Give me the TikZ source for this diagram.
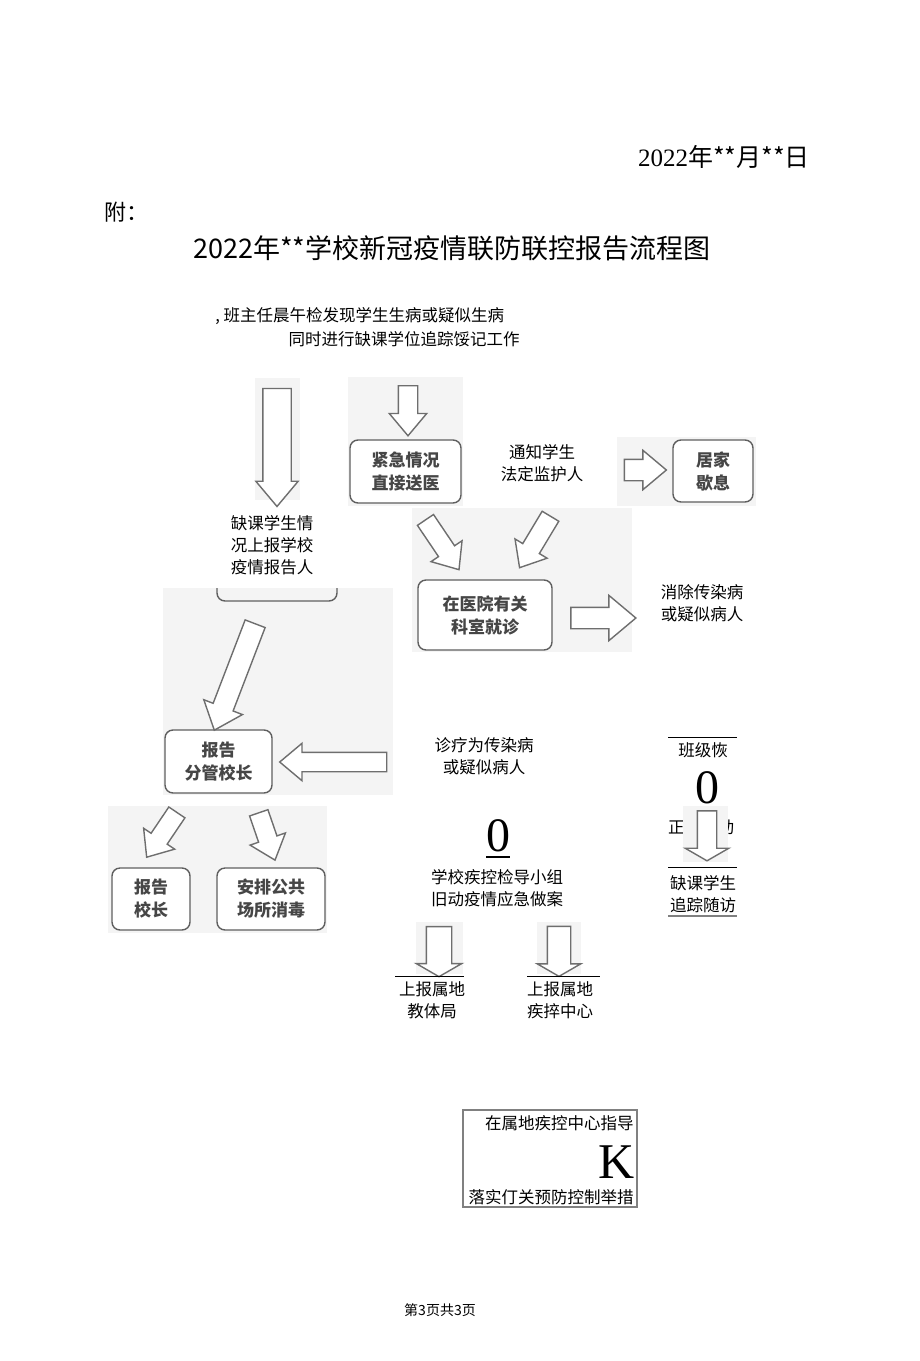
\documentclass[tikz,border=0pt]{standalone}
\usepackage{fontspec}
\setmainfont{Noto Sans CJK SC}
\newfontfamily\serifnum{Liberation Serif}
\usetikzlibrary{shapes.arrows}
\definecolor{panelgray}{RGB}{244,244,244}
\definecolor{boxline}{RGB}{95,95,95}
\definecolor{boxtext}{RGB}{70,70,70}
\definecolor{arrowline}{RGB}{110,110,110}
\begin{document}
\begin{tikzpicture}[x=0.5pt,y=-0.5pt,
  panel/.style={fill=panelgray,draw=none},
  box/.style={draw=boxline,fill=white,rounded corners=4pt,line width=0.7pt,align=center,inner sep=0pt,text=boxtext,font=\bfseries\fontsize{8.5}{11.5}\selectfont},
  txt/.style={align=center,inner sep=0pt,font=\fontsize{8.25}{11}\selectfont},
  blk/.style n args={3}{single arrow,draw=arrowline,fill=white,line width=0.7pt,inner xsep=0pt,minimum width=0pt,single arrow tip angle=80,minimum height=#1,inner ysep=#2,single arrow head extend=#3},
  flat/.style={single arrow tip angle=120},
  rule/.style={line width=0.5pt}]

  \fill[white] (0,0) rectangle (920,1361);
  \path[use as bounding box] (0,0) rectangle (920,1361);

  % heading
  \node[inner sep=0pt,font=\fontsize{12.5}{14}\selectfont] (date) at (724,157) {{\serifnum 2022}年**月**日};
  \node[inner sep=0pt,anchor=west,font=\fontsize{11}{13}\selectfont] (annex) at (104,212) {附：};
  \node[inner sep=0pt,font=\fontsize{13.5}{16}\selectfont] (title) at (452,248) {2022年**学校新冠疫情联防联控报告流程图};

  \node[txt,anchor=west] (check) at (215,316) {, 班主任晨午检发现学生生病或疑似生病};
  \node[txt,anchor=east] (track) at (520,339) {同时进行缺课学位追踪馁记工作};

  % grey picture panels
  \fill[panel] (255,378) rectangle (300,500);
  \fill[panel] (348,377) rectangle (463,506);
  \fill[panel] (617,437) rectangle (756,506);
  \fill[panel] (412,508) rectangle (632,652);
  \fill[panel] (163,588) rectangle (393,795);
  \fill[panel] (108,806) rectangle (327,933);
  \fill[panel] (416,922) rectangle (463,974);
  \fill[panel] (537,922) rectangle (581,974);

  % boxes
  \node[box,minimum width=55.5pt,minimum height=31.5pt] (urgent) at (405.5,471.5) {紧急情况\\直接送医};
  \node[box,minimum width=40pt,minimum height=31pt] (home) at (713,471) {居家\\歇息};
  \node[box,minimum width=67pt,minimum height=35pt] (hospital) at (485,615) {在医院有关\\科室就诊};
  \node[box,minimum width=53.5pt,minimum height=31.5pt] (vice) at (218.5,761.5) {报告\\分管校长};
  \node[box,minimum width=39pt,minimum height=31pt] (head) at (151,899) {报告\\校长};
  \node[box,minimum width=54pt,minimum height=31pt] (disinfect) at (271,899) {安排公共\\场所消毒};
  \draw[boxline,line width=0.7pt,rounded corners=4pt] (217,588) -- (217,601) -- (337,601) -- (337,588);

  % block arrows
  \node[blk={59pt}{6.75pt}{3.5pt},rotate=-90] (downA) at (277,439) {};
  \node[blk={25pt}{4.5pt}{4.5pt},rotate=-90] (downB) at (408,405) {};
  \node[blk={21pt}{5pt}{4.5pt}] (rightC) at (639,470) {};
  \node[blk={30pt}{4.5pt}{4.5pt},rotate=-56] (slantL) at (439,540) {};
  \node[blk={30pt}{4.5pt}{4.5pt},rotate=-121] (slantR) at (538,537) {};
  \node[blk={32.5pt}{5pt}{6pt}] (rightD) at (597,618) {};
  \node[blk={57pt}{5pt}{5pt},rotate=-111] (slantE) at (237,671) {};
  \node[blk={53.5pt}{4.5pt}{4.5pt},rotate=180] (leftE) at (339,762) {};
  \node[blk={27pt}{4.5pt}{4.5pt},rotate=-124] (slantF) at (165,830) {};
  \node[blk={25pt}{4.5pt}{4.5pt},rotate=-71] (slantG) at (265,831) {};
  \node[blk={25pt}{6pt}{5pt},flat,rotate=-90] (downE) at (439,948) {};
  \node[blk={25pt}{5.5pt}{5pt},flat,rotate=-90] (downC) at (559,948) {};

  % plain texts
  \node[txt] (notify) at (542,463) {通知学生\\法定监护人};
  \node[txt] (absent) at (272,545) {缺课学生情\\况上报学校\\疫情报告人};
  \node[txt] (cleared) at (702,603) {消除传染病\\或疑似病人};
  \node[txt] (diagnosed) at (484,756) {诊疗为传染病\\或疑似病人};
  \node[inner sep=0pt,font=\serifnum\fontsize{24}{24}\selectfont] (zeroA) at (498,836) {0};
  \draw[rule,line width=0.9pt] (486,857) -- (510,857);
  \node[txt] (group) at (497,888) {学校疾控检导小组\\旧动疫情应急做案};
  \draw[rule] (395,976) -- (464,976);
  \draw[rule] (527,976) -- (600,976);
  \node[txt] (edu) at (432,1000) {上报属地\\教体局};
  \node[txt] (cdc) at (560,1000) {上报属地\\疾捽中心};

  % right column
  \draw[rule] (668,737) -- (737,737);
  \node[txt] (resume) at (703,750) {班级恢};
  \node[inner sep=0pt,font=\serifnum\fontsize{24}{24}\selectfont] (zeroB) at (707,788) {0};
  \node[txt] (normal) at (701,827) {正常活动};
  \fill[panel] (683,806) rectangle (728,862);
  \node[blk={25pt}{4.5pt}{6pt},flat,rotate=-90] (downH) at (707,833) {};
  \draw[rule] (668,867) -- (737,867);
  \node[txt] (follow) at (703,894) {缺课学生\\追踪随访};
  \draw[rule,gray,line width=0.8pt] (668,916) -- (737,916);

  % measures box
  \draw[gray,line width=0.6pt] (463,1110) rectangle (637,1207);
  \node[txt,anchor=east] (guide) at (634,1123) {在属地疾控中心指导};
  \node[inner sep=0pt,anchor=east,font=\serifnum\fontsize{25}{25}\selectfont] (mark) at (635,1162) {K};
  \node[txt,anchor=east] (measure) at (634,1197) {落实仃关预防控制举措};

  \node[inner sep=0pt,font=\fontsize{7}{8}\selectfont] (footer) at (440,1310) {第3页共3页};
\end{tikzpicture}
\end{document}
